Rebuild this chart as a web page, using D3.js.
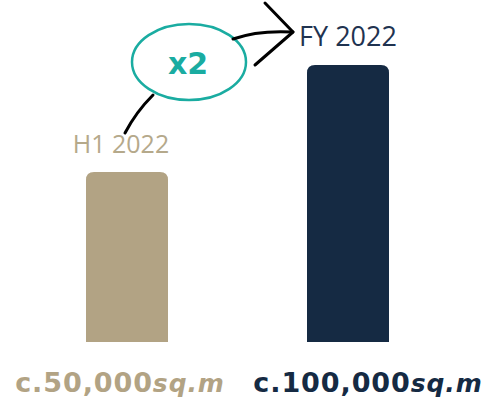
<!DOCTYPE html>
<html>
<head>
<meta charset="utf-8">
<script src="https://cdn.jsdelivr.net/npm/d3@7"></script>
<style>
  html, body { margin: 0; padding: 0; background: #ffffff; }
  svg { display: block; }
</style>
</head>
<body>
<svg id="chart" width="488" height="408"></svg>
<script>
// Floor space, half year vs full year
const categories = ["H1 2022", "FY 2022"];
const values = [50000, 100000];
const valueLabels = ["c.50,000", "c.100,000"];
const unitLabel = "sq.m";
const colors = ["#b2a384", "#152a43"];
const labelColors = ["#b5a98b", "#1f3350"];
const growthLabel = "x2";

const svg = d3.select("#chart");
const baseline = 342;

const x = d3.scaleBand()
  .domain(categories)
  .range([16.5, 458.5])
  .paddingInner(139 / 221)
  .paddingOuter(139 / 442);

// bars rise from a baseline that sits below the zero value
const y = d3.scaleLinear()
  .domain([-29440, 100000])
  .range([baseline, 65]);

const r = 8;
function barPath(x0, w, top, bottom) {
  return `M${x0},${bottom} L${x0},${top + r} Q${x0},${top} ${x0 + r},${top} ` +
         `L${x0 + w - r},${top} Q${x0 + w},${top} ${x0 + w},${top + r} L${x0 + w},${bottom} Z`;
}

svg.selectAll("path.bar")
  .data(categories)
  .join("path")
  .attr("class", "bar")
  .attr("d", (c, i) => barPath(x(c), x.bandwidth(), y(values[i]), baseline))
  .attr("fill", (c, i) => colors[i]);

// period labels above bars
const periodOffsets = [-6, 0];
const periodSizes = [25, 27];
svg.selectAll("text.period")
  .data(categories)
  .join("text")
  .attr("class", "period")
  .attr("x", (c, i) => x(c) + x.bandwidth() / 2 + periodOffsets[i])
  .attr("y", (c, i) => y(values[i]) - 19)
  .attr("text-anchor", "middle")
  .attr("font-family", "'Open Sans', sans-serif")
  .attr("font-size", (c, i) => periodSizes[i])
  .attr("fill", (c, i) => labelColors[i])
  .text(c => c);

// value labels under bars
const valueOffsets = [-7, 20];
const vt = svg.selectAll("text.value")
  .data(categories)
  .join("text")
  .attr("class", "value")
  .attr("x", (c, i) => x(c) + x.bandwidth() / 2 + valueOffsets[i])
  .attr("y", 392)
  .attr("text-anchor", "middle")
  .attr("font-family", "'DejaVu Sans', sans-serif")
  .attr("font-weight", "bold")
  .attr("font-size", 27)
  .attr("letter-spacing", 0.9)
  .attr("fill", (c, i) => colors[i]);
vt.append("tspan").text((c, i) => valueLabels[i]);
vt.append("tspan").attr("font-style", "italic").attr("font-size", 25).text(unitLabel);

// growth annotation
svg.append("ellipse")
  .attr("cx", 189).attr("cy", 62)
  .attr("rx", 57).attr("ry", 38)
  .attr("fill", "none")
  .attr("stroke", "#1aaca1")
  .attr("stroke-width", 2.5);

svg.append("text")
  .attr("x", 188).attr("y", 74)
  .attr("text-anchor", "middle")
  .attr("font-family", "'DejaVu Sans', sans-serif")
  .attr("font-weight", "bold")
  .attr("font-size", 30)
  .attr("fill", "#1aaca1")
  .text(growthLabel);

const arrow = svg.append("g")
  .attr("fill", "none")
  .attr("stroke", "#000")
  .attr("stroke-width", 3)
  .attr("stroke-linecap", "round")
  .attr("stroke-linejoin", "round");
arrow.append("path").attr("d", "M125,133 Q136,112 153,95");
arrow.append("path").attr("d", "M233,39 Q258,30 293,32");
arrow.append("path").attr("d", "M265,3 L293,32 L255,65");
</script>
</body>
</html>
